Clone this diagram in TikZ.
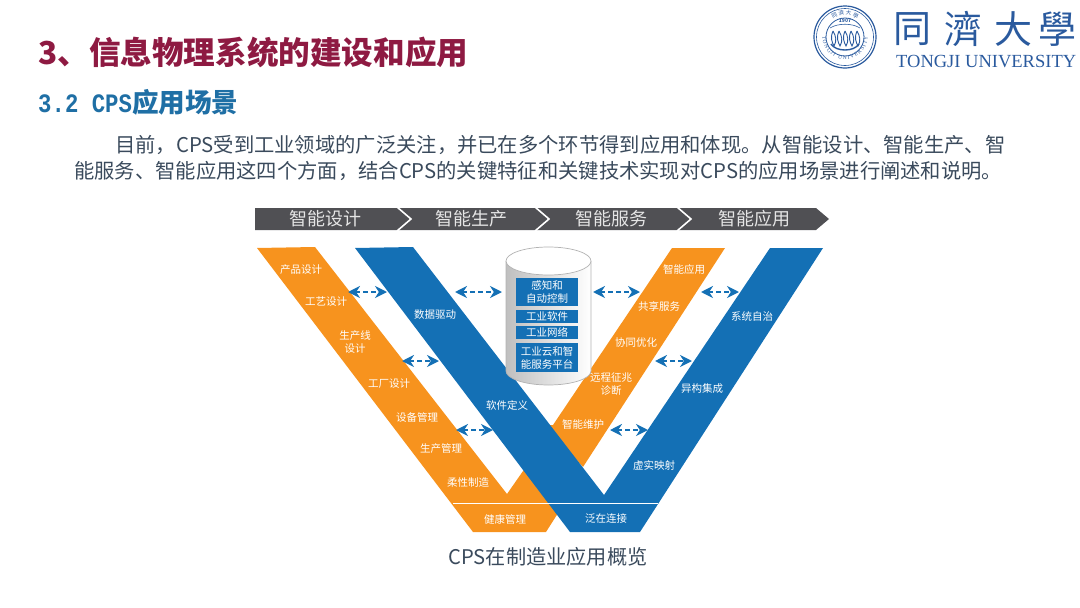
\documentclass[tikz,border=0pt]{standalone}
\usepackage{fontspec}
\setmainfont{Noto Sans CJK SC}
\newfontfamily\tcfont{Noto Sans CJK TC}
\newfontfamily\enfont{Liberation Serif}
\newfontfamily\subfont[FakeStretch=0.84]{Liberation Mono}
\usetikzlibrary{arrows.meta,decorations.text}
\definecolor{bandorange}{HTML}{F7931E}
\definecolor{bandblue}{HTML}{1470B5}
\definecolor{bannergray}{HTML}{505054}
\definecolor{titlered}{HTML}{8E1A42}
\definecolor{subblue}{HTML}{1F6FA5}
\definecolor{bodyink}{HTML}{3A4A5C}
\definecolor{sealblue}{HTML}{2A5A9E}
\begin{document}
\begin{tikzpicture}[x=1pt,y=-1pt]
\tikzstyle{bandlabel}=[inner sep=0pt,align=center,font=\fontsize{10.5}{13}\selectfont,text=white];
\tikzstyle{bannerlabel}=[inner sep=0pt,font=\fontsize{18}{20}\selectfont,text=white!90!black];
\tikzstyle{bodyline}=[inner sep=0pt,anchor=west,font=\fontsize{20.3}{24}\selectfont,text=bodyink];
\tikzstyle{dblarrow}=[{Stealth[length=12pt,width=12pt]}-{Stealth[length=12pt,width=12pt]},bandblue,line width=2pt,dash pattern=on 5pt off 3pt];
\tikzstyle{storebox}=[bandlabel,fill=bandblue,minimum width=62pt];
\useasboundingbox (0,0) rectangle (1080,608);
% heading
\node[inner sep=0pt,anchor=west,font=\fontsize{31.6}{36}\selectfont\bfseries,text=titlered] (title) at (38,52) {3、信息物理系统的建设和应用};
\node[inner sep=0pt,anchor=west,text=subblue,font=\fontsize{26.6}{30}\selectfont\bfseries] (sub) at (38,102) {{\subfont\fontsize{26.6}{30}\selectfont\bfseries 3.2 CPS}应用场景};
\node[bodyline] (line1) at (115,145) {目前，CPS受到工业领域的广泛关注，并已在多个环节得到应用和体现。从智能设计、智能生产、智};
\node[bodyline] (line2) at (74,171) {能服务、智能应用这四个方面，结合CPS的关键特征和关键技术实现对CPS的应用场景进行阐述和说明。};
% logo
\node[circle,draw=sealblue,line width=1.2pt,minimum size=62pt,inner sep=0pt] (seal) at (845,37) {};
\draw[sealblue,line width=.6pt] (seal.center) circle [radius=28.5pt];
\draw[sealblue,line width=.8pt] (seal.center) circle [radius=19pt];
\path[postaction={decorate},decoration={text along path,text align=center,text color=sealblue,text={|\fontsize{5.5}{6}\selectfont|同 濟 大 學}}]
 (845,37) ++(150:22pt) arc [start angle=150,end angle=30,radius=22pt];
\path[postaction={decorate},decoration={text along path,text align={fit to path},text color=sealblue,text={|\enfont\fontsize{5.4}{6}\selectfont|TONGJI UNIVERSITY}}]
 (845,37) ++(178:22.5pt) arc [start angle=178,end angle=362,radius=22.5pt];
\node[inner sep=0pt,text=sealblue,font=\fontsize{5}{6}\selectfont\bfseries] (year) at (845,21) {1907};
\draw[sealblue,line width=.6pt] (830,28) .. controls (838,23) and (852,23) .. (860,28);
\foreach \x in {833,839,845,851,857}
{
\draw[sealblue,line width=.9pt] (\x,31) .. controls (\x-3,38) and (\x-1,42) .. (\x+1,46) .. controls (\x+4,41) and (\x+3,36) .. (\x,31);
}
\draw[sealblue,line width=1.4pt] (831,44) .. controls (836,52) and (854,52) .. (859,44);
\foreach \i/\x/\t in {1/912/同,2/963/濟,3/1013/大,4/1057/學}
{
\node[inner sep=0pt,text=sealblue,font=\tcfont\fontsize{38}{42}\selectfont] (logo\i) at (\x,29) {\t};
}
\node[inner sep=0pt,anchor=west,text=sealblue,font=\enfont\fontsize{18.5}{20}\selectfont] (uni) at (896,62) {TONGJI UNIVERSITY};
% banner
\fill[bannergray] (255,208) -- (816,208) -- (829,219) -- (816,230) -- (255,230) -- cycle;
\foreach \x in {397,535,677}
{
\draw[white,line width=1.6pt] (\x,207) -- (\x+14,219) -- (\x,231);
}
\foreach \i/\x/\t in {1/325/智能设计,2/471/智能生产,3/611/智能服务,4/754/智能应用}
{
\node[bannerlabel] (stage\i) at (\x,219) {\t};
}
% the two V bands
\fill[bandorange] (257,248) -- (315,247) -- (507,494) -- (530,461) -- (560,510) -- (546,532) -- (473,532) -- cycle;
\fill[bandorange] (672,248) -- (725,248) -- (583,467) -- (545,425) -- (553,425) -- cycle;
\fill[bandblue] (355,248) -- (413,247) -- (604,495) -- (770,248) -- (823,248) -- (640,532) -- (570,532) -- cycle;
\draw[white,line width=.9pt] (453,503) -- (658,503);
% store
\shade[left color=black!25,right color=white] (506,261) -- (506,371) arc [start angle=180,end angle=360,x radius=42.5pt,y radius=14pt] -- (591,261) -- cycle;
\draw[black!30,line width=.7pt] (506,261) -- (506,371) arc [start angle=180,end angle=360,x radius=42.5pt,y radius=14pt] -- (591,261);
\draw[black!30,line width=.7pt,fill=white] (548.5,261) ellipse [x radius=42.5pt,y radius=14pt];
\node[storebox,minimum height=28pt] (st1) at (547,292) {感知和\\自动控制};
\node[storebox,minimum height=13pt] (st2) at (547,316.5) {工业软件};
\node[storebox,minimum height=13pt] (st3) at (547,332.5) {工业网络};
\node[storebox,minimum height=29pt] (st4) at (547,357.5) {工业云和智\\能服务平台};
% band labels
\foreach \i/\x/\y/\t in {1/301/270/产品设计,2/326/302/工艺设计,3/355/342/生产线\\设计,4/389/384/工厂设计,5/417/418/设备管理,6/441/449/生产管理,7/468/483/柔性制造,8/505/519/健康管理,9/606/519/泛在连接,10/435/315/数据驱动,11/507/405/软件定义,12/684/270/智能应用,13/659/306/共享服务,14/636/343/协同优化,15/611/384/远程征兆\\诊断,16/583/425/智能维护,17/752/316/系统自治,18/702/389/异构集成,19/654/465/虚实映射}
{
\node[bandlabel] (lab\i) at (\x,\y) {\t};
}
% dashed links
\foreach \i/\x/\u/\y in {1/348/387/292,2/455/502/292,3/402/439/361,4/593/640/292,5/701/739/292,6/655/692/361,7/456/493/430,8/610/648/430}
{
\coordinate (a\i) at (\x,\y);
\coordinate (b\i) at (\u,\y);
\draw[dblarrow] (a\i) -- (b\i);
}
\node[inner sep=0pt,text=bodyink,font=\fontsize{20.2}{24}\selectfont] (caption) at (548,557) {CPS在制造业应用概览};
\end{tikzpicture}
\end{document}
